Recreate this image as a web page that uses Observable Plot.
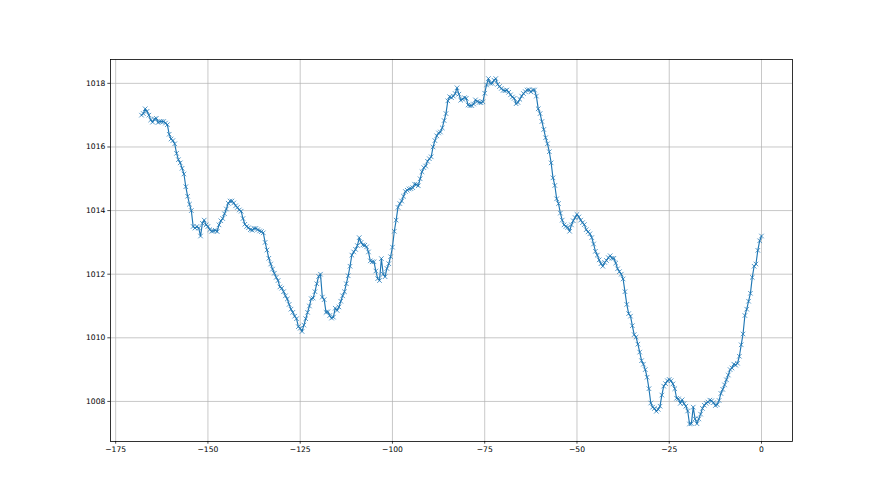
<!DOCTYPE html>
<html><head><meta charset="utf-8">
<script src="https://cdn.jsdelivr.net/npm/d3@7"></script>
<script src="https://cdn.jsdelivr.net/npm/@observablehq/plot@0.6"></script>
<style>html,body{margin:0;padding:0;background:#fff}</style>
</head><body><div id="chart"></div>
<script>
// hours before now, half-hourly from -168 to 0
const startHour = -168;
const stepHours = 0.5;
const pressureA = [
1017.0,1017.05,1017.2,1017.12,1017.0,1016.85,1016.78,1016.88,1016.9,1016.77,
1016.8,1016.8,1016.8,1016.75,1016.7,1016.4,1016.25,1016.2,1016.1,1015.8,
1015.6,1015.5,1015.33,1015.15,1014.75,1014.45,1014.2,1014.0,1013.5,1013.45,
1013.5,1013.45,1013.2,1013.6,1013.7,1013.55,1013.5,1013.4,1013.35,1013.36,
1013.38,1013.34,1013.55,1013.68,1013.75,1013.9,1014.05,1014.23,1014.3,1014.3,
1014.24,1014.15,1014.1,1014.02,1013.98,1013.75,1013.57,1013.5,1013.46,1013.4,
1013.38,1013.44,1013.44,1013.4,1013.36,1013.34,1013.3,1013.0,1012.76,1012.5,
1012.32,1012.16,1012.03,1011.9,1011.8,1011.6,1011.56,1011.45,1011.32,1011.22,
1011.05,1010.9,1010.8,1010.68,1010.6
];
const pressureB = [
1010.35,1010.3,1010.2,1010.4,1010.6,1010.8,1011.0,1011.23,1011.25,1011.45,
1011.7,1011.93,1012.0,1011.28,1011.2,1010.8,1010.82,1010.7,1010.62,1010.65,
1010.93,1010.86,1010.97,1011.15,1011.32,1011.45,1011.7,1011.95,1012.25,1012.6,
1012.7,1012.78,1012.9,1013.15,1013.0,1012.92,1012.91,1012.86,1012.7,1012.42,
1012.39,1012.39,1012.1,1011.86,1011.8,1012.49,1012.0,1011.92,1012.18,1012.33,
1012.55,1012.85,1013.35,1013.7,1014.1,1014.22,1014.3,1014.45,1014.6,1014.64,
1014.68,1014.69,1014.72,1014.83,1014.82,1014.78,1015.0,1015.22,1015.35,1015.4,
1015.55,1015.63,1015.69,1016.0,1016.2,1016.35,1016.44,1016.47,1016.6,1016.83,
1017.05,1017.45,1017.58
];
const pressureC = [
1017.55,1017.6,1017.68,1017.86,1017.66,1017.47,1017.5,1017.55,1017.53,1017.32,
1017.3,1017.3,1017.35,1017.48,1017.43,1017.4,1017.39,1017.42,1017.69,1017.95,
1018.15,1018.0,1018.0,1018.1,1018.15,1017.97,1017.9,1017.84,1017.78,1017.77,
1017.79,1017.72,1017.64,1017.57,1017.53,1017.36,1017.4,1017.5,1017.6,1017.68,
1017.74,1017.79,1017.8,1017.73,1017.79,1017.79,1017.6,1017.2,1017.05,1016.8,
1016.55,1016.29,1016.1,1015.85,1015.5,1015.03,1014.79,1014.37,1014.22,1013.92,
1013.7,1013.55,1013.5,1013.47,1013.35,1013.55,1013.68,1013.78,1013.88,1013.8,
1013.7,1013.62,1013.56,1013.4,1013.33,1013.27,1013.15,1012.95,1012.72,1012.6,
1012.45
];
const pressureD = [
1012.33,1012.25,1012.37,1012.43,1012.52,1012.58,1012.5,1012.5,1012.35,1012.17,
1012.08,1012.0,1011.85,1011.45,1011.05,1010.76,1010.68,1010.38,1010.1,1010.02,
1009.8,1009.55,1009.28,1009.17,1009.0,1008.76,1008.4,1007.95,1007.82,1007.78,
1007.69,1007.75,1007.85,1008.2,1008.48,1008.56,1008.65,1008.69,1008.65,1008.55,
1008.4,1008.1,1008.08,1007.94,1008.05,1007.93,1007.85,1007.7,1007.29,1007.3,
1007.82,1007.45,1007.3,1007.45,1007.6,1007.78,1007.88,1007.94,1007.98,1008.04,
1008.02,1007.96,1007.87,1007.9,1008.03,1008.25,1008.38,1008.52,1008.68,1008.83,
1009.0,1009.05,1009.17,1009.14,1009.2,1009.42,1009.78,1010.12,1010.7,1010.9,
1011.15,1011.4,1011.9,1012.25,1012.32,1012.75,1013.05,1013.2
];
const xTicks = [-175, -150, -125, -100, -75, -50, -25, 0];
const yTicks = [1008, 1010, 1012, 1014, 1016, 1018];

const pressure = [...pressureA, ...pressureB, ...pressureC, ...pressureD];
const data = pressure.map((p, i) => ({hour: startHour + i * stepHours, p}));

const blue = "#1f77b4";
const chart = Plot.plot({
  width: 880,
  height: 495,
  marginLeft: 110,
  marginRight: 88,
  marginTop: 59,
  marginBottom: 54,
  style: {fontFamily: "'DejaVu Sans', sans-serif", fontSize: "7.6px", background: "#fff", color: "#000"},
  x: {domain: [-176.4, 8.4], label: null},
  y: {domain: [1006.74, 1018.75], label: null},
  marks: [
    Plot.gridX(xTicks, {stroke: "#b0b0b0", strokeOpacity: 1, strokeWidth: 0.7}),
    Plot.gridY(yTicks, {stroke: "#b0b0b0", strokeOpacity: 1, strokeWidth: 0.7}),
    Plot.line(data, {x: "hour", y: "p", stroke: blue, strokeWidth: 1.15}),
    Plot.dot(data, {x: "hour", y: "p", symbol: "times", r: 2.2, stroke: blue, strokeWidth: 0.75}),
    Plot.axisX(xTicks, {tickSize: 2.7, tickPadding: 2.5, fontSize: 7.6, stroke: "#000", strokeWidth: 0.7,
      tickFormat: d => (d < 0 ? "\u2212" + Math.abs(d) : String(d))}),
    Plot.axisY(yTicks, {tickSize: 2.7, tickPadding: 2.5, fontSize: 7.6, stroke: "#000", strokeWidth: 0.7,
      tickFormat: d => String(d)}),
    Plot.frame({stroke: "#000", strokeWidth: 0.8})
  ]
});
document.getElementById("chart").appendChild(chart);
</script>
</body></html>
